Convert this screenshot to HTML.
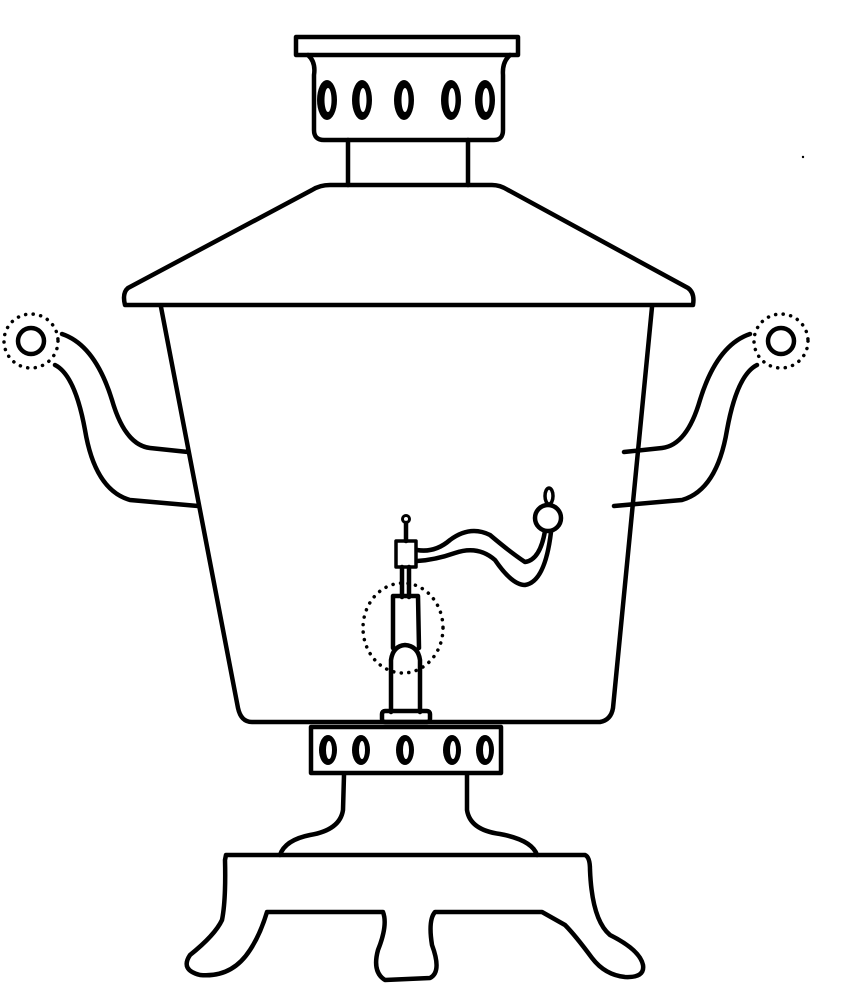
<!DOCTYPE html>
<html><head><style>body{margin:0;background:#fff}svg{display:block}</style></head><body>
<svg width="852" height="1000" viewBox="0 0 852 1000" xmlns="http://www.w3.org/2000/svg" fill="none" stroke="#000" stroke-width="4.5" stroke-linejoin="round" stroke-linecap="round">
<!-- top lid -->
<rect x="296" y="37" width="222" height="18"/>
<path d="M308 55 Q316 62 314 75 L314 130 Q314 140 324 140 L494 140 Q503 140 503 130 L503 75 Q502 62 510 55"/>
<g fill="#000" stroke="none">
<ellipse cx="327" cy="100" rx="10" ry="20"/><ellipse cx="362" cy="100" rx="10" ry="20"/><ellipse cx="404" cy="100" rx="10" ry="20"/><ellipse cx="451" cy="100" rx="10" ry="20"/><ellipse cx="485" cy="100" rx="10" ry="20"/>
</g>
<g fill="#fff" stroke="none">
<ellipse cx="328" cy="100" rx="3.5" ry="12"/><ellipse cx="363" cy="100" rx="3.5" ry="12"/><ellipse cx="405" cy="100" rx="3.5" ry="12"/><ellipse cx="452" cy="100" rx="3.5" ry="12"/><ellipse cx="486" cy="100" rx="3.5" ry="12"/>
</g>
<!-- neck -->
<path d="M348 140 L348 185 M468 140 L468 185"/>
<!-- cone -->
<path d="M330 185 L492 185 Q500 185 508 190 L688 288 Q695 293 693 305 L125 305 Q122 293 128 288 L312 190 Q320 185 330 185 Z"/>
<!-- body -->
<path d="M161 307 L238 708 Q241 722 252 722 L600 722 Q611 720 613 708 L652 307"/>
<!-- handles left -->
<circle cx="31" cy="341" r="13"/>
<circle cx="31" cy="341" r="27" stroke-width="3.5" stroke-dasharray="0.1 7.5"/>
<path d="M62 334 Q95 345 112 400 Q125 445 150 448 L188 452"/>
<path d="M55 365 Q75 375 85 430 Q95 490 130 500 L198 506"/>
<!-- handles right -->
<circle cx="781" cy="341" r="13"/>
<circle cx="781" cy="341" r="27" stroke-width="3.5" stroke-dasharray="0.1 7.5"/>
<path d="M750 334 Q717 345 700 400 Q687 445 662 448 L624 452"/>
<path d="M757 365 Q737 375 727 430 Q717 490 682 500 L614 506"/>
<!-- burner band -->
<rect x="311" y="727" width="190" height="46"/>
<g fill="#000" stroke="none">
<ellipse cx="328" cy="750" rx="9" ry="15"/><ellipse cx="361" cy="750" rx="9" ry="15"/><ellipse cx="405" cy="750" rx="9" ry="15"/><ellipse cx="452" cy="750" rx="9" ry="15"/><ellipse cx="485" cy="750" rx="9" ry="15"/>
</g>
<g fill="#fff" stroke="none">
<ellipse cx="329" cy="750" rx="3" ry="9"/><ellipse cx="362" cy="750" rx="3" ry="9"/><ellipse cx="406" cy="750" rx="3" ry="9"/><ellipse cx="453" cy="750" rx="3" ry="9"/><ellipse cx="486" cy="750" rx="3" ry="9"/>
</g>
<!-- stand -->
<path d="M344 775 L343 810 Q340 830 310 835 Q285 840 280 855"/>
<path d="M467 775 L467 810 Q470 830 500 834 Q532 840 537 855"/>
<path d="M226 855 L585 855 Q590 857 590 870 Q592 920 610 935 Q640 950 643 965 Q645 978 625 977 Q605 975 592 958 Q575 935 565 925 L542 912 L435 912 Q428 920 432 945 Q442 972 430 978 L385 980 Q372 972 378 950 Q388 925 383 912 L267 912 Q260 935 250 950 Q232 978 200 975 Q180 970 190 955 Q215 935 222 920 Q226 900 225 860 Z"/>
<!-- tap -->
<circle cx="406" cy="519" r="3.5" stroke-width="3"/>
<path d="M406 523 L406 541"/>
<rect x="396" y="541" width="20" height="26" stroke-width="3.5"/>
<path d="M402 567 L402 597 M409 567 L409 597"/>
<path d="M393 596 L418 596 L419 648 M393 596 L393 648"/>
<path d="M391 712 L391 660 Q393 646 405 645 Q418 646 420 660 L420 712"/>
<rect x="382" y="711" width="48" height="11" rx="3"/>
<ellipse cx="403" cy="628" rx="40" ry="45" stroke-width="3.5" stroke-dasharray="0.1 7.5"/>
<path d="M417 550 Q435 553 450 540 Q470 525 490 535 Q510 552 525 562 Q540 560 545 531"/>
<path d="M417 561 Q435 560 455 553 Q478 545 495 560 Q512 585 525 585 Q545 582 551 532"/>
<circle cx="548" cy="518" r="13" fill="#fff"/>
<ellipse cx="549" cy="496" rx="4" ry="8" stroke-width="3.5"/>
<circle cx="803" cy="157" r="1.2" fill="#000" stroke="none"/>
</svg>
</body></html>
